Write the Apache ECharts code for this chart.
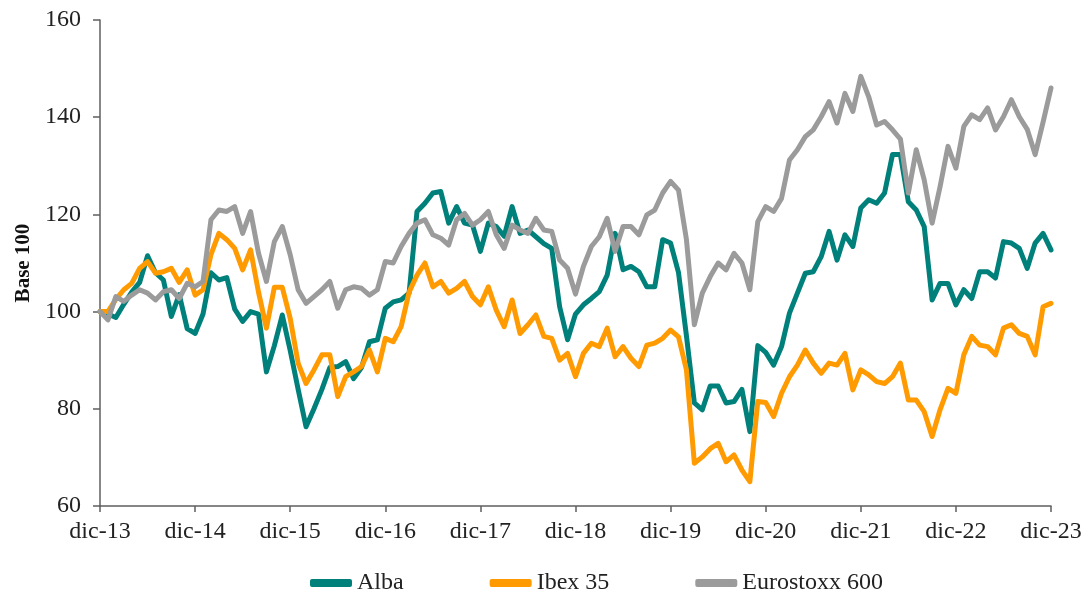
<!DOCTYPE html>
<html>
<head>
<meta charset="utf-8">
<script src="https://cdn.jsdelivr.net/npm/echarts@6/dist/echarts.min.js"></script>
<style>
html,body{margin:0;padding:0;background:#fff;}
#chart{width:1091px;height:604px;}
</style>
</head>
<body>
<div id="chart"></div>
<script>
// Month abbreviations (Spanish) and years used for the category axis
const monthNames = ["dic","ene","feb","mar","abr","may","jun","jul","ago","sep","oct","nov"];
const startYear = 13;
const tickLabels = ["dic-13","dic-14","dic-15","dic-16","dic-17","dic-18","dic-19","dic-20","dic-21","dic-22","dic-23"];

const alba = [
100,99.5,98.8,101.5,104,106,111.5,108,106.5,99,103.5,96.5,
95.5,99.5,108,106.5,107,100.5,98,100,99.5,87.6,93,99.3,
92,84,76.3,80,84,88.5,88.7,89.7,86.2,88.5,93.8,94.2,
100.7,102,102.4,103.8,120.6,122.3,124.4,124.7,118.2,121.6,118.2,117.8,
112.4,118.2,117.5,115.5,121.6,116.1,116.8,115.4,114,113,101,94.2,
99.5,101.4,102.7,104.1,107.5,116.1,108.6,109.3,108.2,105.1,105.1,114.8,
114.1,108,95,81.2,79.8,84.7,84.7,81.2,81.5,84,75.3,93,
91.6,89,92.8,99.7,103.8,107.9,108.2,111.3,116.5,110.6,115.8,113.4,
121.3,123,122.3,124.4,132.3,132.3,122.6,120.9,117.5,102.4,105.8,105.8,
101.4,104.5,102.7,108.2,108.2,106.9,114.4,114.1,113,108.9,114.1,116.1,
112.7
];

const ibex = [
100,100,102.5,104.5,105.8,108.9,110.3,107.9,108.2,108.9,106,108.6,
103.4,104.5,111.7,116.1,114.8,113,108.6,112.7,104,96.6,105,105,
98.6,89.4,85.2,88,91.1,91.1,82.5,86.6,87.6,88.7,92.1,87.6,
94.5,93.8,96.9,104,107.5,110,105.1,106.2,103.8,104.8,106.2,103.1,
101.4,105.1,100.3,96.9,102.4,95.5,97.3,99.3,94.9,94.5,90,91.4,
86.6,91.4,93.5,92.8,96.6,90.7,92.8,90.4,88.7,93.1,93.5,94.5,
96.2,94.8,88,68.8,70.1,71.8,72.9,69.1,70.5,67.4,65,81.5,
81.3,78.4,83.2,86.6,89,92.1,89.4,87.3,89.4,89,91.4,83.9,
88,87,85.6,85.2,86.6,89.4,81.8,81.8,79.4,74.3,79.8,84.2,
83.2,91.1,94.9,93.1,92.8,91.1,96.6,97.3,95.5,94.9,91.1,101,
101.7
];

const eurostoxx = [
100,98.3,103.1,102.1,103.4,104.5,103.8,102.4,104.1,104.5,102.7,105.8,
105.1,106.2,118.9,120.9,120.6,121.6,116.1,120.6,112,106.2,114.4,117.5,
111.7,104.5,101.7,103.1,104.5,106.2,100.7,104.5,105.1,104.8,103.4,104.5,
110.3,110,113.4,116.1,118.2,118.9,115.8,115.1,113.7,118.9,120.2,117.8,
118.9,120.6,115.8,113,117.8,116.8,116.1,119.2,116.8,116.5,110.6,108.9,
103.6,109.3,113.4,115.4,119.2,112.4,117.5,117.5,115.8,119.9,120.9,124.4,
126.8,125,114.8,97.3,103.8,107.2,110,108.6,112,110,104.5,118.5,
121.6,120.6,123.3,131.2,133.3,136,137.4,140.1,143.2,138.8,144.9,141.2,
148.4,144.2,138.4,139.1,137.4,135.5,124.4,133.3,127.1,118.2,125.7,134,
129.5,138.1,140.5,139.5,141.9,137.4,140.1,143.6,140.1,137.5,132.3,139,
146
];

const categories = alba.map((_, i) => monthNames[i % 12] + "-" + (startYear + Math.ceil(i / 12)));

const serif = "'Liberation Serif', 'Times New Roman', serif";
const chart = echarts.init(document.getElementById('chart'), null, {renderer: 'canvas'});

function lineSeries(name, data, color) {
  return {
    name: name,
    type: 'line',
    data: data,
    showSymbol: false,
    symbol: 'none',
    lineStyle: {color: color, width: 5, cap: 'round', join: 'round'},
    itemStyle: {color: color},
    animation: false
  };
}

chart.setOption({
  animation: false,
  backgroundColor: '#ffffff',
  grid: {left: 100, right: 40, top: 20, bottom: 98, containLabel: false},
  legend: {
    left: 305,
    top: 566,
    itemWidth: 42,
    itemHeight: 8,
    itemGap: 86,
    icon: 'roundRect',
    textStyle: {fontFamily: serif, fontSize: 24, color: '#222'},
    data: ['Alba', 'Ibex 35', 'Eurostoxx 600']
  },
  xAxis: {
    type: 'category',
    data: categories,
    boundaryGap: false,
    axisLine: {show: true, lineStyle: {color: '#5f5f5f', width: 1.5}},
    axisTick: {
      show: true,
      length: 6,
      interval: (i) => i % 12 === 0,
      lineStyle: {color: '#5f5f5f', width: 1.5}
    },
    axisLabel: {
      interval: (i) => i % 12 === 0,
      formatter: (v) => tickLabels.indexOf(v) >= 0 ? v : '',
      fontFamily: serif,
      fontSize: 24,
      color: '#222',
      margin: 14
    },
    splitLine: {show: false}
  },
  yAxis: {
    type: 'value',
    min: 60,
    max: 160,
    interval: 20,
    name: 'Base 100',
    nameLocation: 'middle',
    nameGap: 60,
    nameTextStyle: {fontFamily: serif, fontSize: 21, fontWeight: 'bold', color: '#111'},
    axisLine: {show: true, lineStyle: {color: '#5f5f5f', width: 1.5}},
    axisTick: {show: true, length: 7, lineStyle: {color: '#5f5f5f', width: 1.5}},
    axisLabel: {fontFamily: serif, fontSize: 24, color: '#222', margin: 19},
    splitLine: {show: false}
  },
  series: [
    lineSeries('Alba', alba, '#00807b'),
    lineSeries('Ibex 35', ibex, '#ff9a00'),
    lineSeries('Eurostoxx 600', eurostoxx, '#9b9b9b')
  ]
});
</script>
</body>
</html>
